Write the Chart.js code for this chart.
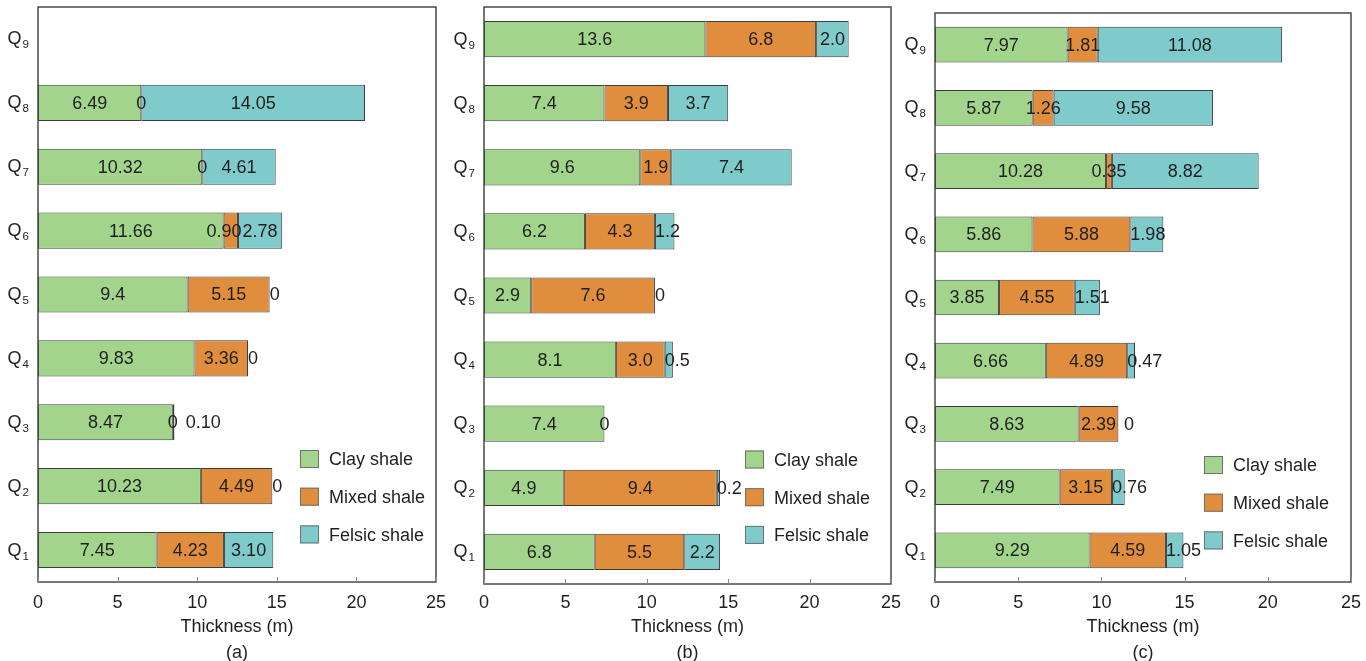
<!DOCTYPE html>
<html>
<head>
<meta charset="utf-8">
<script src="https://cdn.jsdelivr.net/npm/chart.js@4/dist/chart.umd.min.js"></script>
<style>
  html, body { margin: 0; padding: 0; background: #fff; overflow: hidden; width: 1366px; height: 661px; }
  canvas { position: absolute; top: 0; }
</style>
</head>
<body>
<canvas id="panelA" width="455" height="666" style="left:0px"></canvas>
<canvas id="panelB" width="465" height="666" style="left:445px"></canvas>
<canvas id="panelC" width="466" height="666" style="left:900px"></canvas>
<script>
// Intervals (bottom to top) and thickness values in metres, written as printed on the bars
const categories = ['Q1', 'Q2', 'Q3', 'Q4', 'Q5', 'Q6', 'Q7', 'Q8', 'Q9'];
const seriesNames = ['Clay shale', 'Mixed shale', 'Felsic shale'];
const xTicks = [0, 5, 10, 15, 20, 25];
const axisTitle = 'Thickness (m)';

// Panel (a)
const clayA   = ['7.45', '10.23', '8.47', '9.83', '9.4', '11.66', '10.32', '6.49', null];
const mixedA  = ['4.23', '4.49', '0', '3.36', '5.15', '0.90', '0', '0', null];
const felsicA = ['3.10', '0', '0.10', '0', '0', '2.78', '4.61', '14.05', null];

// Panel (b)
const clayB   = ['6.8', '4.9', '7.4', '8.1', '2.9', '6.2', '9.6', '7.4', '13.6'];
const mixedB  = ['5.5', '9.4', '0', '3.0', '7.6', '4.3', '1.9', '3.9', '6.8'];
const felsicB = ['2.2', '0.2', null, '0.5', '0', '1.2', '7.4', '3.7', '2.0'];

// Panel (c)
const clayC   = ['9.29', '7.49', '8.63', '6.66', '3.85', '5.86', '10.28', '5.87', '7.97'];
const mixedC  = ['4.59', '3.15', '2.39', '4.89', '4.55', '5.88', '0.35', '1.26', '1.81'];
const felsicC = ['1.05', '0.76', '0', '0.47', '1.51', '1.98', '8.82', '9.58', '11.08'];

const FONT = '"Liberation Sans", Arial, Helvetica, sans-serif';
const TEXT = '#1f1f1f';
const COLORS = ['#a2d48b', '#e08e3e', '#7fcaca'];
const CANVAS_H = 666;

Chart.defaults.font.family = FONT;
Chart.defaults.font.size = 18;
Chart.defaults.color = TEXT;

const toNumbers = arr => arr.map(s => (s === null ? null : parseFloat(s)));

// Frame around the plot area plus short inward ticks on the x axis
const framePlugin = {
  id: 'frame',
  afterDraw(chart) {
    const { ctx, chartArea: a } = chart;
    const xs = chart.scales.x;
    ctx.save();
    ctx.strokeStyle = '#4a4a4a';
    ctx.lineWidth = 1.5;
    ctx.strokeRect(a.left, a.top, a.right - a.left, a.bottom - a.top);
    ctx.strokeStyle = '#8a8a8a';
    ctx.lineWidth = 1;
    xs.ticks.forEach(t => {
      const px = Math.round(xs.getPixelForValue(t.value)) + 0.5;
      ctx.beginPath();
      ctx.moveTo(px, a.bottom);
      ctx.lineTo(px, a.bottom - 5);
      ctx.stroke();
    });
    ctx.restore();
  }
};

// Interval names with subscript numbers on the left axis
const categoryLabelPlugin = {
  id: 'categoryLabels',
  afterDraw(chart) {
    const { ctx, chartArea: a } = chart;
    const ys = chart.scales.y;
    ctx.save();
    ctx.fillStyle = TEXT;
    ctx.textBaseline = 'alphabetic';
    ctx.textAlign = 'left';
    chart.data.labels.forEach((lab, i) => {
      const y = ys.getPixelForValue(i);
      const main = lab.charAt(0), sub = lab.slice(1);
      ctx.font = '18px ' + FONT;
      const wMain = ctx.measureText(main).width;
      ctx.font = '11.5px ' + FONT;
      const wSub = ctx.measureText(sub).width;
      const right = a.left - 9;
      const left = right - wMain - wSub - 1;
      ctx.font = '18px ' + FONT;
      ctx.fillText(main, left, y + 5.5);
      ctx.font = '11.5px ' + FONT;
      ctx.fillText(sub, left + wMain + 1, y + 9.5);
    });
    ctx.restore();
  }
};

// Value labels on each segment: centred when they fit, pushed past the bar end
// for a thin last segment, and nudged left when a thin middle one runs into its neighbour
const valueLabelPlugin = {
  id: 'valueLabels',
  afterDatasetsDraw(chart, args, opts) {
    const { ctx } = chart;
    const texts = opts.texts;
    const lastIdx = chart.data.datasets.length - 1;
    ctx.save();
    ctx.font = '18px ' + FONT;
    ctx.fillStyle = TEXT;
    ctx.textBaseline = 'middle';
    ctx.textAlign = 'left';
    chart.data.labels.forEach((_, i) => {
      const items = [];
      let prevRight = -Infinity;
      chart.data.datasets.forEach((ds, k) => {
        const txt = texts[k][i];
        if (txt === null || txt === undefined) return;
        const el = chart.getDatasetMeta(k).data[i];
        const w = ctx.measureText(txt).width;
        const x0 = Math.min(el.x, el.base), x1 = Math.max(el.x, el.base);
        const overflow = w > x1 - x0;
        let left;
        if (k === lastIdx && overflow) {
          left = Math.max(x0, prevRight + 8);
        } else {
          left = (x0 + x1) / 2 - w / 2;
        }
        items.push({ txt, w, left, y: el.y, overflow, last: k === lastIdx });
        prevRight = left + w;
      });
      for (let j = items.length - 2; j >= 0; j--) {
        const it = items[j], next = items[j + 1];
        if (it.overflow && !it.last && it.left + it.w > next.left - 1 && next.left - it.left > 20) {
          it.left = next.left - 1 - it.w;
        }
      }
      items.forEach(it => ctx.fillText(it.txt, it.left, it.y + 1));
    });
    ctx.restore();
  }
};

// Legend boxes inside the lower right of the plot area
const boxLegendPlugin = {
  id: 'boxLegend',
  afterDraw(chart, args, opts) {
    const { ctx, chartArea: a } = chart;
    ctx.save();
    ctx.font = '18px ' + FONT;
    ctx.textBaseline = 'middle';
    ctx.textAlign = 'left';
    chart.data.datasets.forEach((ds, j) => {
      const cx = a.right - opts.dx;
      const cy = a.bottom - opts.dy + j * 37.7;
      ctx.fillStyle = ds.backgroundColor;
      ctx.fillRect(cx, cy - 9, 19, 18);
      ctx.strokeStyle = '#6f6f6f';
      ctx.lineWidth = 1;
      ctx.strokeRect(cx + 0.5, cy - 8.5, 18, 17);
      ctx.fillStyle = TEXT;
      ctx.fillText(ds.label, cx + 29, cy + 1.5);
    });
    ctx.restore();
  }
};

function makePanel(id, series, layout) {
  const datasets = series.map((arr, k) => ({
    label: seriesNames[k],
    data: toNumbers(arr),
    backgroundColor: COLORS[k],
    borderColor: '#3c3c3c',
    borderWidth: 1,
    borderSkipped: false,
    barPercentage: 0.565,
    categoryPercentage: 1
  }));
  return new Chart(document.getElementById(id), {
    type: 'bar',
    data: { labels: categories, datasets },
    options: {
      indexAxis: 'y',
      responsive: false,
      animation: false,
      events: [],
      layout: {
        autoPadding: false,
        padding: { top: layout.top, right: layout.right, bottom: 0, left: 0 }
      },
      plugins: {
        legend: { display: false },
        tooltip: { enabled: false },
        valueLabels: { texts: series },
        boxLegend: { dx: layout.legendDx, dy: layout.legendDy }
      },
      scales: {
        x: {
          type: 'linear',
          stacked: true,
          min: 0,
          max: 25,
          grid: { display: false },
          border: { display: false },
          afterBuildTicks: s => { s.ticks = xTicks.map(v => ({ value: v })); },
          afterFit: s => { s.height = CANVAS_H - layout.bottom; },
          ticks: { padding: layout.tickPad, color: TEXT, font: { size: 18 } },
          title: {
            display: true,
            text: [axisTitle, layout.tag],
            color: TEXT,
            font: { size: 18, lineHeight: 26 / 18 },
            padding: { top: 0, bottom: 0 }
          }
        },
        y: {
          stacked: true,
          reverse: true,
          grid: { display: false },
          border: { display: false },
          ticks: { display: false },
          afterFit: s => { s.width = layout.left; }
        }
      }
    },
    plugins: [framePlugin, categoryLabelPlugin, valueLabelPlugin, boxLegendPlugin]
  });
}

makePanel('panelA', [clayA, mixedA, felsicA], {
  tag: '(a)', left: 38, right: 19, top: 7, bottom: 582, tickPad: 2,
  legendDx: 136, legendDy: 123
});
makePanel('panelB', [clayB, mixedB, felsicB], {
  tag: '(b)', left: 39, right: 19, top: 7, bottom: 584, tickPad: 0.5,
  legendDx: 146, legendDy: 124.5
});
makePanel('panelC', [clayC, mixedC, felsicC], {
  tag: '(c)', left: 35, right: 15, top: 13, bottom: 582, tickPad: 2.5,
  legendDx: 147, legendDy: 117
});
</script>
</body>
</html>
